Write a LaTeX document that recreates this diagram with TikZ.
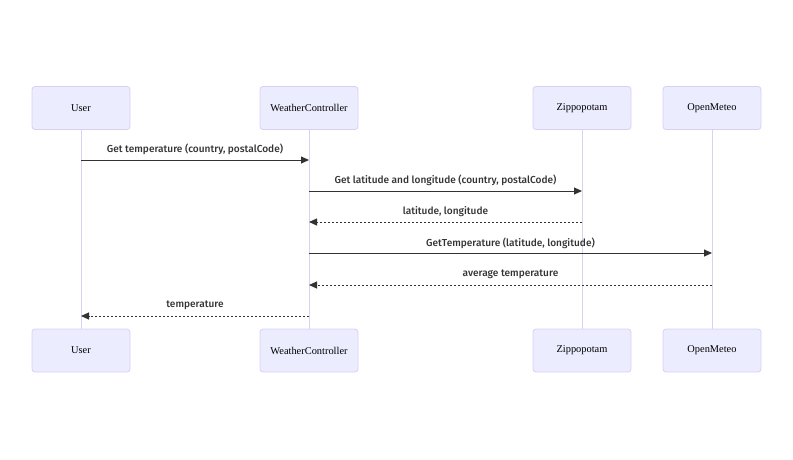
\documentclass[tikz,border=0pt]{standalone}
\usepackage{fontspec}
\setmainfont{Liberation Serif}
\newfontfamily\msgfont{Fira Sans}[UprightFont=* Medium]
\usetikzlibrary{arrows.meta}
\definecolor{actorfill}{HTML}{ECECFF}
\definecolor{actorline}{HTML}{DACEF3}
\definecolor{lifeline}{HTML}{D9D2F0}
\definecolor{msgcol}{HTML}{333333}
\tikzset{
  actor/.style={draw=actorline, fill=actorfill, rounded corners=3pt, line width=0.8pt,
    minimum width=98pt, minimum height=43pt, inner sep=0pt, font=\fontsize{10.4}{12}\selectfont, text=black},
  lifeln/.style={draw=lifeline, line width=1pt},
  msg/.style={draw=msgcol, line width=1pt, -{Triangle[length=8pt,width=7pt]}},
  reply/.style={msg, dash pattern=on 2pt off 2pt},
  msglabel/.style={font=\msgfont\fontsize{10.1}{12}\selectfont, text=msgcol, inner sep=0pt}
}
\begin{document}
\begin{tikzpicture}[x=1pt,y=-1pt]
\useasboundingbox (0,0) rectangle (793,459);
% actors top
\node[actor] (ut) at (81,108) {User};
\node[actor] (wt) at (309,108) {WeatherController};
\node[actor] (zt) at (582,108) {Zippopotam};
\node[actor] (ot) at (712,108) {OpenMeteo};
% actors bottom
\node[actor] (ub) at (81,350.5) {User};
\node[actor] (wb) at (309,350.5) {WeatherController};
\node[actor] (zb) at (582,350.5) {Zippopotam};
\node[actor] (ob) at (712,350.5) {OpenMeteo};
% lifelines
\draw[lifeln] (ut.south) -- (ub.north);
\draw[lifeln] (wt.south) -- (wb.north);
\draw[lifeln] (zt.south) -- (zb.north);
\draw[lifeln] (ot.south) -- (ob.north);
% message endpoints
\coordinate (u1) at (81,160);  \coordinate (w1) at (309,160);
\coordinate (w2) at (309,191); \coordinate (z2) at (582,191);
\coordinate (z3) at (582,222); \coordinate (w3) at (309,222);
\coordinate (w4) at (309,253); \coordinate (o4) at (712,253);
\coordinate (o5) at (712,285); \coordinate (w5) at (309,285);
\coordinate (w6) at (309,316); \coordinate (u6) at (81,316);
% messages
\draw[msg] (u1) -- (w1);
\node[msglabel] (l1) at (195,149.5) {Get temperature (country, postalCode)};
\draw[msg] (w2) -- (z2);
\node[msglabel] (l2) at (445.5,180.5) {Get latitude and longitude (country, postalCode)};
\draw[reply] (z3) -- (w3);
\node[msglabel] (l3) at (445.5,211.5) {latitude, longitude};
\draw[msg] (w4) -- (o4);
\node[msglabel] (l4) at (510.5,243) {GetTemperature (latitude, longitude)};
\draw[reply] (o5) -- (w5);
\node[msglabel] (l5) at (510.5,274.5) {average temperature};
\draw[reply] (w6) -- (u6);
\node[msglabel] (l6) at (195,305.5) {temperature};
\end{tikzpicture}
\end{document}
